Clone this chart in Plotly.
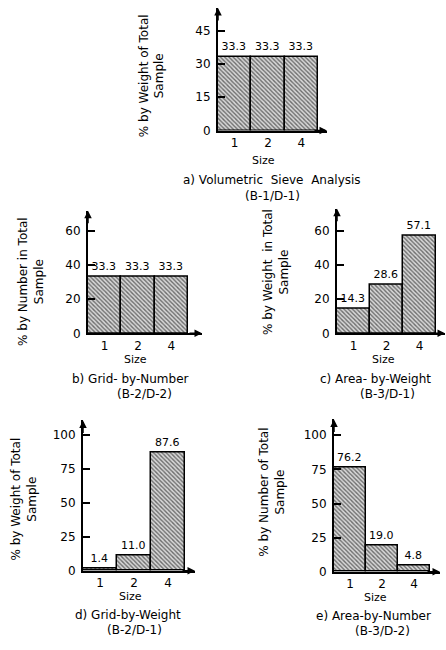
import plotly.graph_objects as go

W, H = 446, 650
FONT = "DejaVu Sans"

sizes = ["1", "2", "4"]
pct_a = [33.3, 33.3, 33.3]   # Volumetric sieve analysis, % by weight
pct_b = [33.3, 33.3, 33.3]   # Grid-by-number, % by number
pct_c = [14.3, 28.6, 57.1]   # Area-by-weight, % by weight
pct_d = [1.4, 11.0, 87.6]    # Grid-by-weight, % by weight
pct_e = [76.2, 19.0, 4.8]    # Area-by-number, % by number

yticks_a = [0, 15, 30, 45]
yticks_bc = [0, 20, 40, 60]
yticks_de = [0, 25, 50, 75, 100]

panels = [
    dict(vals=pct_a, ticks=yticks_a,
         ytitle="% by Weight of Total<br>Sample",
         cap1="a) Volumetric\u00a0 Sieve\u00a0 Analysis", cap2="(B-1/D-1)",
         # pixel geometry: axis x, bars end x, arrow x, baseline y, top y, value->px
         ax=218, bx=318, rx=327, by=132, ty=8, ppu=2.244,
         ytx=152, yty=77, sx=263, sy=162, c1x=272, c1y=182, c2x=272, c2y=198),
    dict(vals=pct_b, ticks=yticks_bc,
         ytitle="% by Number in Total<br>Sample",
         cap1="b) Grid-\u00a0by-Number", cap2="(B-2/D-2)",
         ax=88, bx=188, rx=202, by=337, ty=213, ppu=1.733,
         ytx=31, yty=285, sx=135, sy=363, c1x=130, c1y=383, c2x=144, c2y=398),
    dict(vals=pct_c, ticks=yticks_bc,
         ytitle="% by Weight\u00a0 in Total<br>Sample",
         cap1="c) Area-\u00a0by-Weight", cap2="(B-3/D-1)",
         ax=337, bx=436, rx=445, by=337, ty=211, ppu=1.733,
         ytx=276, yty=275, sx=383, sy=363, c1x=375, c1y=383, c2x=387, c2y=398),
    dict(vals=pct_d, ticks=yticks_de,
         ytitle="% by Weight of Total<br>Sample",
         cap1="d) Grid-by-Weight", cap2="(B-2/D-1)",
         ax=83, bx=185, rx=195, by=577, ty=425, ppu=1.37,
         ytx=24, yty=505, sx=130, sy=603, c1x=128, c1y=622, c2x=134, c2y=637),
    dict(vals=pct_e, ticks=yticks_de,
         ytitle="% by Number of Total<br>Sample",
         cap1="e) Area-by-Number", cap2="(B-3/D-2)",
         ax=334, bx=430, rx=440, by=578, ty=424, ppu=1.38,
         ytx=272, yty=498, sx=375, sy=604, c1x=373, c1y=623, c2x=382, c2y=638),
]

fig = go.Figure()
layout = dict(
    width=W, height=H, margin=dict(l=0, r=0, t=0, b=0),
    paper_bgcolor="white", plot_bgcolor="white",
    showlegend=False, font=dict(family=FONT, color="black", size=11),
    annotations=[], bargap=0,
)

for i, p in enumerate(panels, start=1):
    sfx = "" if i == 1 else str(i)
    xid, yid = "x" + sfx, "y" + sfx
    unit_px = (p["bx"] - p["ax"]) / 3.0
    xmax = -0.5 + (p["rx"] - p["ax"]) / unit_px
    ytop = (p["by"] - p["ty"]) / p["ppu"]

    fig.add_trace(go.Bar(
        x=[0, 1, 2], y=p["vals"], width=1, xaxis=xid, yaxis=yid,
        text=[f"{v:.1f}" for v in p["vals"]], textposition="outside",
        textfont=dict(family=FONT, size=11, color="black"),
        cliponaxis=False,
        marker=dict(color="white",
                    line=dict(color="black", width=1.5),
                    pattern=dict(shape="\\", fgcolor="black", bgcolor="#d8d8d8",
                                 size=3, solidity=0.45)),
        hoverinfo="skip",
    ))

    layout["xaxis" + sfx] = dict(
        domain=[p["ax"] / W, p["rx"] / W], range=[-0.5, xmax], anchor=yid,
        showline=True, linecolor="black", linewidth=2,
        tickmode="array", tickvals=[0, 1, 2], ticktext=sizes, ticks="",
        showgrid=False, zeroline=False, tickfont=dict(size=12, family=FONT),
    )
    layout["yaxis" + sfx] = dict(
        domain=[1 - p["by"] / H, 1 - p["ty"] / H], range=[0, ytop], anchor=xid,
        showline=True, linecolor="black", linewidth=2,
        tickmode="array", tickvals=p["ticks"], ticks="inside", ticklen=7,
        tickwidth=1.5, tickcolor="black", showgrid=False, zeroline=False,
        tickfont=dict(size=12, family=FONT), ticklabelstandoff=3,
    )
    ann = layout["annotations"]
    # arrowheads on axes
    ann.append(dict(xref=xid + " domain", yref=yid + " domain", x=0, y=1,
                    ax=0, ay=14, showarrow=True, arrowhead=2, arrowsize=1,
                    arrowwidth=1.5, arrowcolor="black", text=""))
    ann.append(dict(xref=xid + " domain", yref=yid + " domain", x=1, y=0,
                    ax=-14, ay=0, showarrow=True, arrowhead=2, arrowsize=1,
                    arrowwidth=1.5, arrowcolor="black", text=""))
    # y title
    ann.append(dict(xref="paper", yref="paper", x=p["ytx"] / W, y=1 - p["yty"] / H,
                    text=p["ytitle"], textangle=-90, showarrow=False,
                    font=dict(size=12, family=FONT), xanchor="center", yanchor="middle"))
    # Size
    ann.append(dict(xref="paper", yref="paper", x=p["sx"] / W, y=1 - p["sy"] / H,
                    text="Size", showarrow=False, font=dict(size=11, family=FONT),
                    xanchor="center", yanchor="middle"))
    ann.append(dict(xref="paper", yref="paper", x=p["c1x"] / W, y=1 - p["c1y"] / H,
                    text=p["cap1"], showarrow=False, font=dict(size=12, family=FONT),
                    xanchor="center", yanchor="middle"))
    ann.append(dict(xref="paper", yref="paper", x=p["c2x"] / W, y=1 - p["c2y"] / H,
                    text=p["cap2"], showarrow=False, font=dict(size=12, family=FONT),
                    xanchor="center", yanchor="middle"))

fig.update_layout(**layout)
fig.write_html("out.html")
